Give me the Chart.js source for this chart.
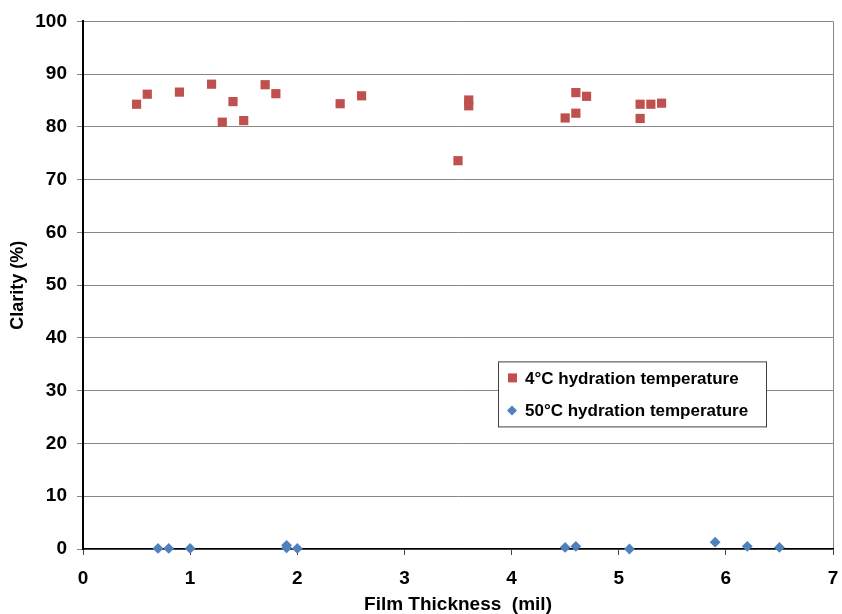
<!DOCTYPE html>
<html>
<head>
<meta charset="utf-8">
<title>Clarity vs Film Thickness</title>
<script src="https://cdn.jsdelivr.net/npm/chart.js@4/dist/chart.umd.min.js"></script>
<style>
  html, body { margin: 0; padding: 0; background: #ffffff; }
  #wrap { position: relative; width: 842px; height: 614px; }
</style>
</head>
<body>
<div id="wrap"><canvas id="clarityChart" width="842" height="614"></canvas></div>
<script>
// Film thickness (mil) and clarity (%) for the two hydration temperatures
const thickness4C = [0.5, 0.6, 0.9, 1.2, 1.3, 1.4, 1.5, 1.7, 1.8, 2.4, 2.6, 3.5, 3.6, 3.6, 4.5, 4.6, 4.6, 4.7, 5.2, 5.2, 5.3, 5.4];
const clarity4C   = [84.3, 86.2, 86.6, 88.1, 80.9, 84.8, 81.2, 88.0, 86.3, 84.4, 85.9, 73.6, 85.1, 84.0, 81.7, 86.5, 82.6, 85.8, 84.3, 81.6, 84.3, 84.5];

const thickness50C = [0.7, 0.8, 1.0, 1.9, 1.9, 2.0, 4.5, 4.6, 5.1, 5.9, 6.2, 6.5];
const clarity50C   = [0.1, 0.1, 0.1, 0.7, 0.2, 0.1, 0.3, 0.5, 0.0, 1.3, 0.5, 0.3];

const seriesLabels = ['4\u00b0C hydration temperature', '50\u00b0C hydration temperature'];
const xTitle = 'Film Thickness  (mil)';
const yTitle = 'Clarity (%)';

const colors = {
  red: '#c0504d',
  blue: '#4f81bd',
  grid: '#878787',
  axis: '#000000'
};

const toPoints = (xs, ys) => xs.map((x, i) => ({ x: x, y: ys[i] }));

Chart.defaults.font.family = "'Liberation Sans', Arial, sans-serif";
Chart.defaults.font.weight = 'bold';
Chart.defaults.color = '#000000';

// Boxed legend sitting inside the plot area, lower right
const boxLegend = {
  id: 'boxLegend',
  afterDraw(chart) {
    const { ctx, chartArea } = chart;
    const left = chartArea.left + 415;
    const top = chartArea.top + 340;
    const w = 268, h = 65;
    ctx.save();
    ctx.fillStyle = '#ffffff';
    ctx.fillRect(left, top, w, h);
    ctx.strokeStyle = '#404040';
    ctx.lineWidth = 1;
    ctx.strokeRect(left + 0.5, top + 0.5, w, h);

    ctx.font = "bold 17px 'Liberation Sans', Arial, sans-serif";
    ctx.textBaseline = 'middle';

    // square marker
    let cy = top + 16.5;
    ctx.fillStyle = colors.red;
    ctx.fillRect(left + 10, cy - 4.5, 9, 9);
    ctx.fillStyle = '#000000';
    ctx.fillText(seriesLabels[0], left + 27, cy + 1);

    // diamond marker
    cy = top + 49;
    ctx.fillStyle = colors.blue;
    ctx.beginPath();
    ctx.moveTo(left + 14, cy - 5);
    ctx.lineTo(left + 19, cy);
    ctx.lineTo(left + 14, cy + 5);
    ctx.lineTo(left + 9, cy);
    ctx.closePath();
    ctx.fill();
    ctx.fillStyle = '#000000';
    ctx.fillText(seriesLabels[1], left + 27, cy + 1);
    ctx.restore();
  }
};

new Chart(document.getElementById('clarityChart'), {
  type: 'scatter',
  data: {
    datasets: [
      {
        label: seriesLabels[0],
        data: toPoints(thickness4C, clarity4C),
        pointStyle: 'rect',
        pointRadius: 6.5,
        pointHoverRadius: 6.5,
        backgroundColor: colors.red,
        borderColor: colors.red,
        borderWidth: 0,
        clip: false
      },
      {
        label: seriesLabels[1],
        data: toPoints(thickness50C, clarity50C),
        pointStyle: 'rectRot',
        pointRadius: 5.4,
        pointHoverRadius: 5.4,
        backgroundColor: colors.blue,
        borderColor: colors.blue,
        borderWidth: 0,
        clip: false
      }
    ]
  },
  options: {
    responsive: false,
    animation: false,
    layout: { padding: { top: 20, right: 9, left: 0, bottom: 0 } },
    plugins: {
      legend: { display: false },
      tooltip: { enabled: false }
    },
    scales: {
      x: {
        type: 'linear',
        min: 0,
        max: 7,
        ticks: { stepSize: 1, padding: 12, font: { size: 19 }, color: '#000' },
        grid: {
          color: (c) => (c.tick && c.tick.value === 7 ? colors.grid : 'transparent'),
          tickColor: '#444',
          tickLength: 6,
          drawOnChartArea: true
        },
        border: { color: colors.axis, width: 1.5 },
        title: {
          display: true,
          text: xTitle,
          font: { size: 19, lineHeight: 1.0 },
          padding: { top: 0, bottom: 0 }
        },
        afterFit(scale) {
          scale.height = 65;
          // end labels may overhang; keep the plot edges fixed
          scale.paddingLeft = 0;
          scale.paddingRight = 0;
        }
      },
      y: {
        type: 'linear',
        min: 0,
        max: 100,
        ticks: { stepSize: 10, padding: 10, font: { size: 19 }, color: '#000' },
        grid: {
          color: colors.grid,
          tickColor: colors.grid,
          tickLength: 6
        },
        border: { color: colors.axis, width: 2 },
        title: {
          display: true,
          text: yTitle,
          font: { size: 18 },
          padding: { top: 7, bottom: 0 }
        },
        afterFit(scale) { scale.width = 83; }
      }
    }
  },
  plugins: [boxLegend]
});
</script>
</body>
</html>
